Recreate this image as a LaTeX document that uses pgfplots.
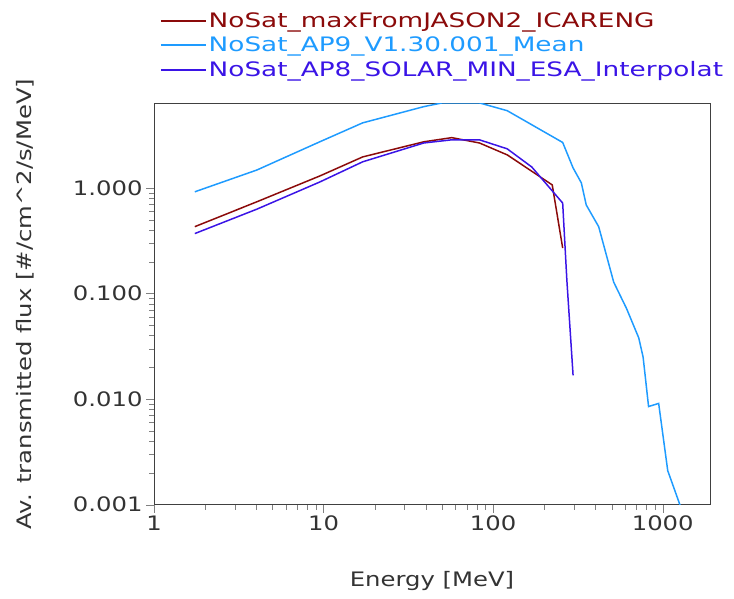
\documentclass[border=0pt]{standalone}
\usepackage{pgfplots}
\pgfplotsset{compat=1.18}
\usepackage{fontspec}
\setmainfont[FakeStretch=1.22]{DejaVu Sans}
\newfontfamily\legfont[FakeStretch=1.32]{DejaVu Sans}
\definecolor{cRed}{HTML}{8B0A0A}
\definecolor{cLB}{HTML}{1E9BFF}
\definecolor{cB}{HTML}{3A14E6}
\begin{document}
\begin{tikzpicture}[x=1bp,y=1bp]
\useasboundingbox (0,0) rectangle (734,599);
\begin{axis}[at={(154bp,411bp)},anchor=origin,scale only axis,width=556bp,height=401bp,
 xmode=log,ymode=log,xmin=1,xmax=1900,ymin=0.001,ymax=6.3,
 xtick={1,10,100,1000},xticklabels={1,10,100,1000},
 ytick={0.001,0.01,0.1,1},yticklabels={0.001,0.010,0.100,1.000},
 tick align=outside,tick pos=left,major tick length=8bp,minor tick length=5bp,
 axis line style={black!75,line width=0.9pt},
 ticklabel style={font=\fontsize{20}{24}\selectfont,text=black!80},
 label style={font=\fontsize{20}{24}\selectfont,text=black!80},
 xlabel={Energy [MeV]},ylabel={Av. transmitted flux [\#/cm\^{}2/s/MeV]},
 xlabel style={at={(axis description cs:0.5,-0.19)},anchor=center},
 ylabel style={at={(axis description cs:-0.232,0.5)},anchor=center},
 legend style={at={(rel axis cs:0.01,1.232)},anchor=north west,draw=none,fill=none,
   font=\legfont\fontsize{20}{22}\selectfont,row sep=4bp,inner sep=0pt},
 legend cell align=left,
 legend image code/.code={\draw[#1,line width=2pt](0bp,0bp)--(45bp,0bp);},
 clip=true,
 every axis plot/.append style={line width=1.5pt}]
\addplot[cRed] coordinates {(1.74,0.43)(4.04,0.74)(9.5,1.3)(17,1.97)(39,2.74)(57,3.0)(83,2.67)(121,2.06)(223,1.07)(257,0.27)};
\addlegendentry{\textcolor{cRed}{NoSat\_maxFromJASON2\_ICARENG}}
\addplot[cLB] coordinates {(1.74,0.92)(4.04,1.48)(9.5,2.74)(17,4.14)(39,5.9)(50,6.4)(83,6.4)(121,5.4)(257,2.7)(296,1.55)(331,1.12)(354,0.69)(419,0.43)(514,0.128)(612,0.072)(722,0.038)(766,0.025)(825,0.0085)(946,0.0091)(1070,0.0021)(1270,0.00097)};
\addlegendentry{\textcolor{cLB}{NoSat\_AP9\_V1.30.001\_Mean}}
\addplot[cB] coordinates {(1.74,0.37)(4.04,0.63)(9.5,1.14)(17,1.77)(39,2.67)(57,2.86)(83,2.86)(121,2.35)(169,1.58)(257,0.72)(272,0.134)(296,0.0168)};
\addlegendentry{\textcolor{cB}{NoSat\_AP8\_SOLAR\_MIN\_ESA\_Interpolat}}
\end{axis}
\end{tikzpicture}
\end{document}
